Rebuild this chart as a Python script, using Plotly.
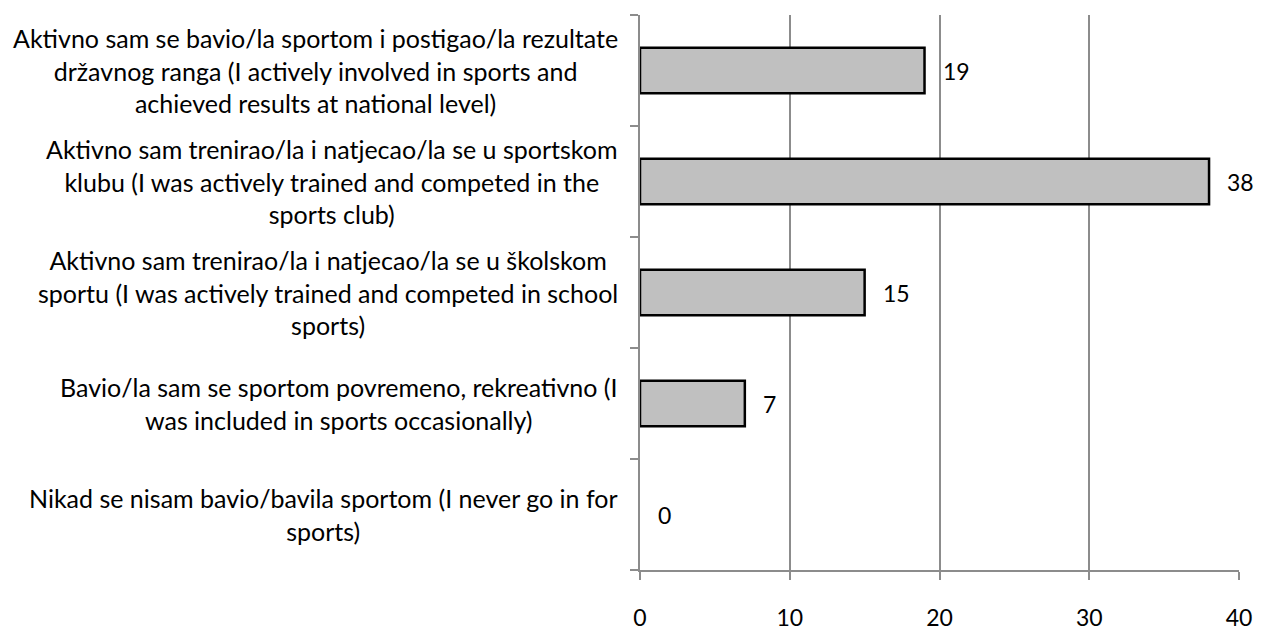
import plotly.graph_objects as go

categories = [
    "Aktivno sam se bavio/la sportom i postigao/la rezultate<br>državnog ranga (I actively involved in sports and<br>achieved results at national level)",
    "Aktivno sam trenirao/la i natjecao/la se u sportskom<br>klubu (I was actively trained and competed in the<br>sports club)",
    "Aktivno sam trenirao/la i natjecao/la se u školskom<br>sportu (I was actively trained and competed in school<br>sports)",
    "Bavio/la sam se sportom povremeno, rekreativno (I<br>was included in sports occasionally)",
    "Nikad se nisam bavio/bavila sportom (I never go in for<br>sports)",
]
values = [19, 38, 15, 7, 0]
x_ticks = [0, 10, 20, 30, 40]

FONT = "Lato"
FS = 25
NFS = 23

fig = go.Figure()
fig.add_trace(go.Bar(
    x=values,
    y=list(range(len(categories))),
    orientation="h",
    marker=dict(
        color="#c0c0c0",
        line=dict(color="black", width=[2.5 if v > 0 else 0 for v in values]),
    ),
    showlegend=False,
    hoverinfo="skip",
))

# data labels
for i, v in enumerate(values):
    fig.add_annotation(
        x=v, y=i, xref="x", yref="y", text=str(v), showarrow=False,
        xanchor="left", yanchor="middle", xshift=16,
        font=dict(family=FONT, size=NFS, color="black"),
    )

# category labels
for i, c in enumerate(categories):
    fig.add_annotation(
        x=0, y=i, xref="paper", yref="y", text=c, showarrow=False,
        xanchor="right", yanchor="middle", align="center", xshift=-20,
        font=dict(family=FONT, size=FS, color="black"),
    )

fig.update_layout(
    width=1264, height=643,
    margin=dict(l=640, r=16, t=15, b=54),
    paper_bgcolor="white", plot_bgcolor="white",
    bargap=0.59,
    font=dict(family=FONT, size=FS, color="black"),
    xaxis=dict(
        range=[0, 40], tickvals=x_ticks, ticktext=[str(t) for t in x_ticks],
        showgrid=True, gridcolor="#8c8c8c", gridwidth=1.5,
        showline=True, linecolor="#8c8c8c", linewidth=1.5,
        ticks="outside", ticklen=8, tickcolor="#8c8c8c", tickwidth=1.5,
        ticklabelstandoff=19, zeroline=False,
        tickfont=dict(family=FONT, size=NFS, color="black"),
    ),
    yaxis=dict(
        type="category", range=[len(categories) - 0.5, -0.5],
        tickvals=list(range(len(categories))), ticktext=[""] * len(categories),
        tickson="boundaries", ticks="outside", ticklen=8,
        tickcolor="#8c8c8c", tickwidth=1.5,
        showline=True, linecolor="#8c8c8c", linewidth=1.5,
        showgrid=False, zeroline=False,
    ),
)

fig.write_html(
    "out.html",
    config={"displayModeBar": False},
    post_script="document.body.style.margin='0';document.body.style.overflow='hidden';",
)
